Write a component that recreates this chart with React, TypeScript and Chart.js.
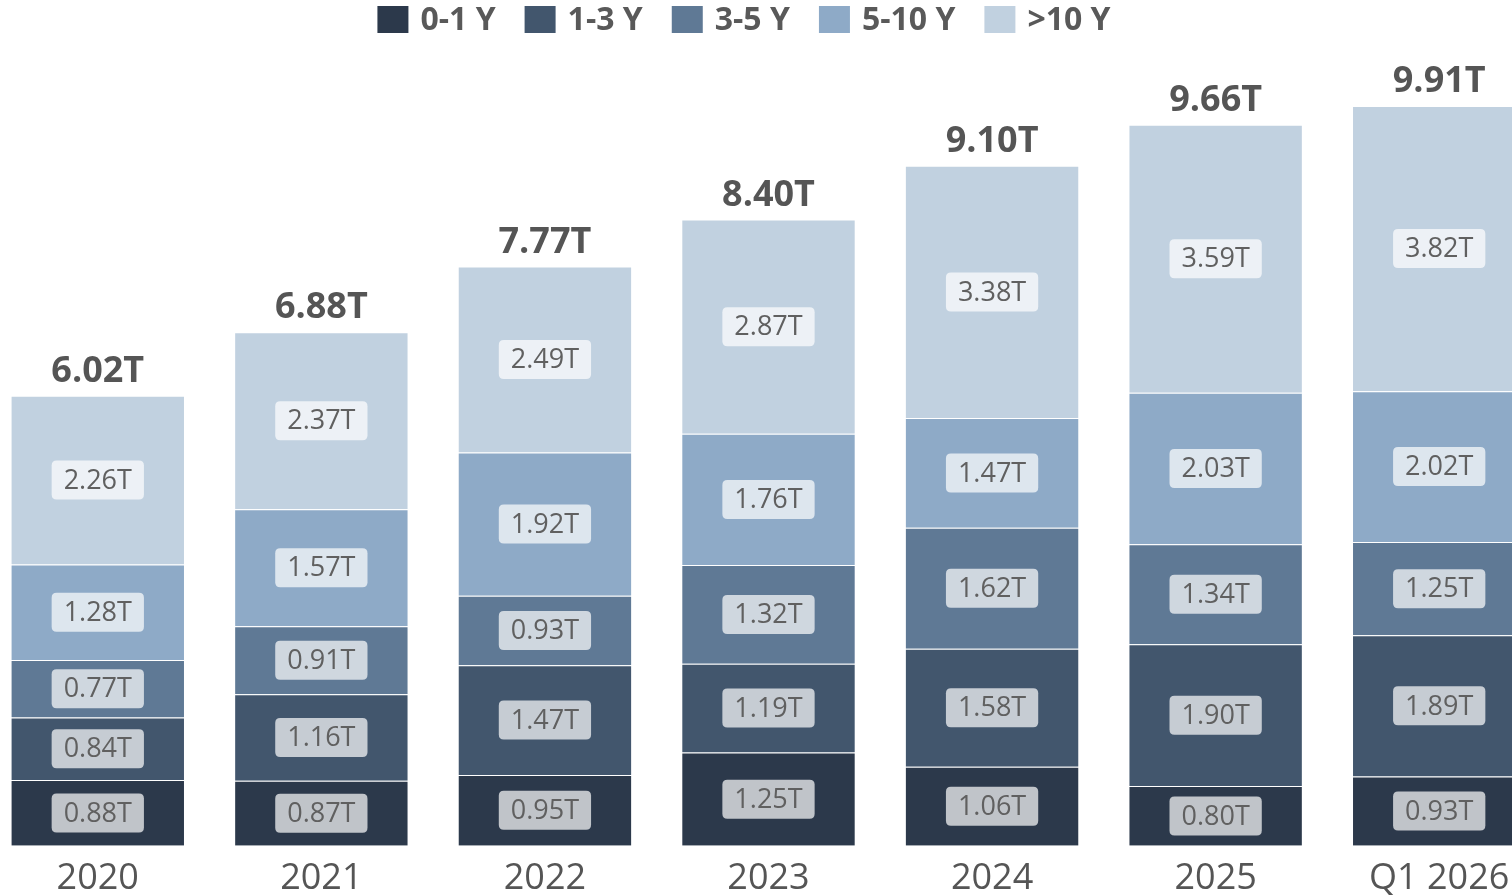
import React, { useEffect, useRef } from "react";
import { Chart, registerables } from "chart.js";

Chart.register(...registerables);

const categories = ["2020", "2021", "2022", "2023", "2024", "2025", "Q1 2026"];
const seriesNames = ["0-1 Y", "1-3 Y", "3-5 Y", "5-10 Y", ">10 Y"];
const y0to1 = [0.88, 0.87, 0.95, 1.25, 1.06, 0.8, 0.93];
const y1to3 = [0.84, 1.16, 1.47, 1.19, 1.58, 1.9, 1.89];
const y3to5 = [0.77, 0.91, 0.93, 1.32, 1.62, 1.34, 1.25];
const y5to10 = [1.28, 1.57, 1.92, 1.76, 1.47, 2.03, 2.02];
const y10plus = [2.26, 2.37, 2.49, 2.87, 3.38, 3.59, 3.82];
const totals = [6.02, 6.88, 7.77, 8.4, 9.1, 9.66, 9.91];
const colors = ["#2c394b", "#42566d", "#5f7995", "#8eaac7", "#c1d1e0"];

const FONT = "'Open Sans', 'Noto Sans', sans-serif";
const CANVAS_LEFT = -63;
const CANVAS_W = 1614;
const CANVAS_H = 911;

function roundRect(ctx: CanvasRenderingContext2D, x: number, y: number, w: number, h: number, r: number) {
  ctx.beginPath();
  ctx.moveTo(x + r, y);
  ctx.lineTo(x + w - r, y);
  ctx.quadraticCurveTo(x + w, y, x + w, y + r);
  ctx.lineTo(x + w, y + h - r);
  ctx.quadraticCurveTo(x + w, y + h, x + w - r, y + h);
  ctx.lineTo(x + r, y + h);
  ctx.quadraticCurveTo(x, y + h, x, y + h - r);
  ctx.lineTo(x, y + r);
  ctx.quadraticCurveTo(x, y, x + r, y);
  ctx.closePath();
}

const labelPlugin = {
  id: "labelPlugin",
  afterDatasetsDraw(chart: any) {
    const ctx: CanvasRenderingContext2D = chart.ctx;
    ctx.save();
    const n = chart.data.datasets.length;
    for (let d = 0; d < n; d++) {
      const meta = chart.getDatasetMeta(d);
      const data = chart.data.datasets[d].data as number[];
      meta.data.forEach((bar: any, i: number) => {
        const cy = (bar.y + bar.base) / 2;
        const text = data[i].toFixed(2) + "T";
        ctx.font = `27px ${FONT}`;
        const tw = ctx.measureText(text).width;
        const bw = tw + 24;
        const bh = 39;
        ctx.fillStyle = "rgba(255,255,255,0.7)";
        roundRect(ctx, bar.x - bw / 2, cy - bh / 2, bw, bh, 5);
        ctx.fill();
        ctx.fillStyle = "#606060";
        ctx.textAlign = "center";
        ctx.textBaseline = "middle";
        ctx.fillText(text, bar.x, cy + 1);
      });
    }
    const topMeta = chart.getDatasetMeta(n - 1);
    topMeta.data.forEach((bar: any, i: number) => {
      ctx.font = `bold 36px ${FONT}`;
      ctx.fillStyle = "#555555";
      ctx.textAlign = "center";
      ctx.textBaseline = "middle";
      ctx.fillText(totals[i].toFixed(2) + "T", bar.x, bar.y - 24);
    });
    // legend
    ctx.font = `bold 32px ${FONT}`;
    const boxW = 31;
    const boxH = 27;
    const gap = 12;
    const spacing = 29;
    const widths = seriesNames.map((s) => boxW + gap + ctx.measureText(s).width);
    const total = widths.reduce((a, b) => a + b, 0) + spacing * (seriesNames.length - 1);
    let x = 744 - CANVAS_LEFT - total / 2;
    seriesNames.forEach((s, i) => {
      ctx.fillStyle = colors[i];
      ctx.fillRect(x, 6, boxW, boxH);
      ctx.fillStyle = "#595959";
      ctx.textAlign = "left";
      ctx.textBaseline = "middle";
      ctx.fillText(s, x + boxW + gap, 21);
      x += widths[i] + spacing;
    });
    ctx.restore();
  },
};

export default function App() {
  const ref = useRef<HTMLCanvasElement>(null);
  useEffect(() => {
    if (!ref.current) return;
    const series = [y0to1, y1to3, y3to5, y5to10, y10plus];
    const chart = new Chart(ref.current, {
      type: "bar",
      data: {
        labels: categories,
        datasets: series.map((s, i) => ({
          label: seriesNames[i],
          data: s,
          backgroundColor: colors[i],
          borderColor: "rgba(255,255,255,0.35)",
          borderWidth: 1,
          categoryPercentage: 1,
          barPercentage: 0.78,
        })),
      },
      options: {
        responsive: false,
        animation: false,
        devicePixelRatio: 1,
        layout: { padding: { top: 62, left: 49, right: 0, bottom: 0 } },
        plugins: {
          legend: { display: false },
          tooltip: { enabled: false },
        },
        scales: {
          x: {
            stacked: true,
            grid: { display: false, drawTicks: false },
            border: { display: false },
            ticks: {
              color: "#555555",
              font: { family: FONT, size: 36, lineHeight: 1.2 },
              padding: 11,
            },
          },
          y: {
            stacked: true,
            display: false,
            min: 0,
            max: 10.5,
          },
        },
      },
      plugins: [labelPlugin],
    });
    return () => chart.destroy();
  }, []);
  return (
    <div
      style={{
        position: "fixed",
        left: 0,
        top: 0,
        width: 1512,
        height: 896,
        overflow: "hidden",
        background: "#ffffff",
      }}
    >
      <canvas
        ref={ref}
        width={CANVAS_W}
        height={CANVAS_H}
        style={{ position: "absolute", left: CANVAS_LEFT, top: 0, width: CANVAS_W, height: CANVAS_H }}
      />
    </div>
  );
}
